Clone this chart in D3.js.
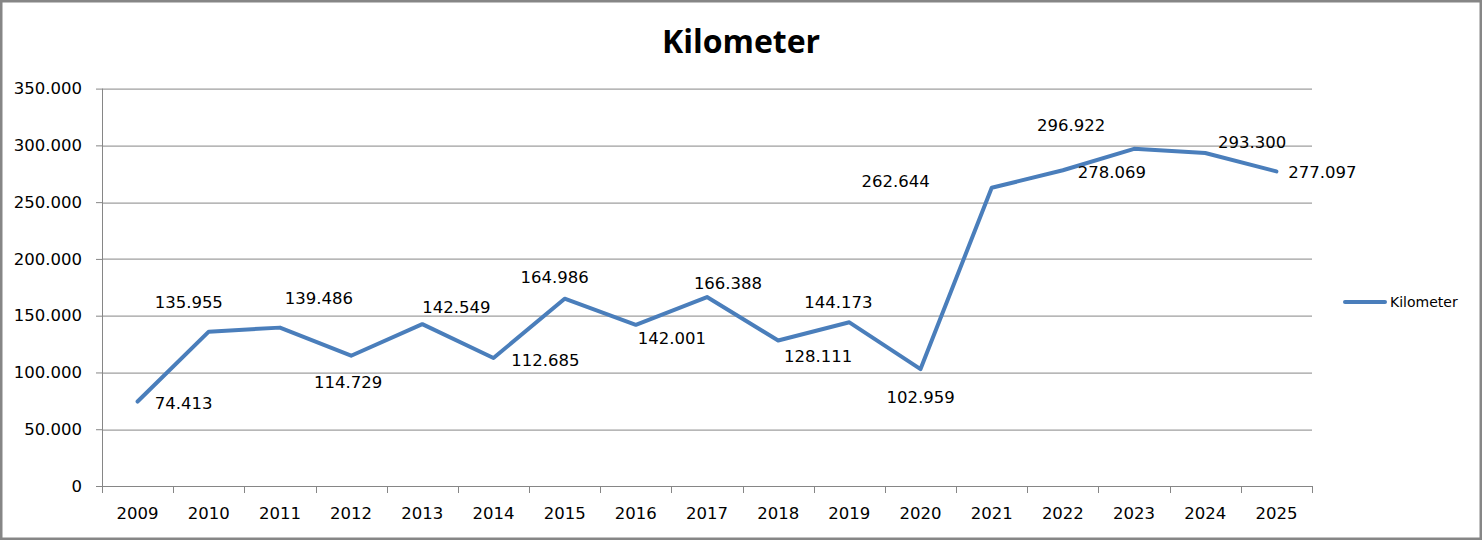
<!DOCTYPE html>
<html>
<head>
<meta charset="utf-8">
<script src="https://cdn.jsdelivr.net/npm/d3@7"></script>
<style>
  body { margin: 0; background: #fff; }
  svg text { font-family: "DejaVu Sans", sans-serif; fill: #000; }
</style>
</head>
<body>
<script>
// chart data
var years = ["2009", "2010", "2011", "2012", "2013", "2014", "2015", "2016", "2017",
             "2018", "2019", "2020", "2021", "2022", "2023", "2024", "2025"];
var kilometer = [74413, 135955, 139486, 114729, 142549, 112685, 164986, 142001, 166388,
                 128111, 144173, 102959, 262644, 278069, 296922, 293300, 277097];
var yTicks = [0, 50000, 100000, 150000, 200000, 250000, 300000, 350000];
var seriesName = "Kilometer";

// where each data label sits relative to its point (dx, dy in px), as in the original
var labelOffsets = [[46, 2], [-20, -30], [39, -30], [-3, 26], [34, -17], [52, 2], [-10, -22],
                    [36, 13], [21, -14], [40, 16], [-11, -20], [0, 28], [-96, -7], [49, 2],
                    [-63, -24], [47, -11], [46, 1]];

var W = 1482, H = 540;
var margin = {top: 88.6, right: 170, bottom: 54, left: 102},
    width = 1312 - margin.left,
    height = 486 - margin.top;

var gridColor = "#868686",
    lineColor = "#4A7EBB";

// number format with dot as thousands separator
var fmt = function(v) {
    return d3.format(",")(v).replace(/,/g, ".");
};

var svg = d3.select("body").append("svg")
    .attr("width", W)
    .attr("height", H);

// outer border
svg.append("rect")
    .attr("x", 1.25).attr("y", 1.25)
    .attr("width", W - 2.5).attr("height", H - 2.5)
    .attr("fill", "#fff")
    .attr("stroke", gridColor)
    .attr("stroke-width", 2.5);

// title
svg.append("text")
    .attr("x", 741)
    .attr("y", 53)
    .attr("text-anchor", "middle")
    .style("font-family", "'Open Sans', sans-serif")
    .style("font-weight", "bold")
    .style("font-size", "32px")
    .text(seriesName);

var g = svg.append("g")
    .attr("transform", "translate(" + margin.left + "," + margin.top + ")");

var x = d3.scaleBand().domain(years).range([0, width]);
var y = d3.scaleLinear().domain([0, 350000]).range([height, 0]);

// horizontal gridlines
g.selectAll(".grid")
    .data(yTicks.filter(function(d) { return d > 0; }))
    .enter().append("line")
    .attr("class", "grid")
    .attr("x1", 0).attr("x2", width)
    .attr("y1", function(d) { return Math.round(y(d)) + 0.5; })
    .attr("y2", function(d) { return Math.round(y(d)) + 0.5; })
    .attr("stroke", gridColor)
    .attr("stroke-width", 1);

// Y axis
var yAxis = g.append("g")
    .call(d3.axisLeft(y).tickValues(yTicks).tickSize(6).tickPadding(14).tickFormat(fmt));
yAxis.select(".domain").attr("stroke", gridColor).attr("d", "M0.5,0V" + height);
yAxis.selectAll(".tick line").attr("stroke", gridColor);
yAxis.selectAll("text").style("font-size", "16.5px").style("font-family", "'DejaVu Sans', sans-serif");

// X axis: tick marks at band edges
var xAxis = g.append("g").attr("transform", "translate(0," + height + ")");
xAxis.append("line")
    .attr("x1", 0).attr("x2", width)
    .attr("y1", 0.5).attr("y2", 0.5)
    .attr("stroke", gridColor);
xAxis.selectAll(".xtick")
    .data(years.concat(["end"]))
    .enter().append("line")
    .attr("x1", function(d, i) { return Math.round(i * x.step()) + 0.5; })
    .attr("x2", function(d, i) { return Math.round(i * x.step()) + 0.5; })
    .attr("y1", 0).attr("y2", 7)
    .attr("stroke", gridColor);
xAxis.selectAll(".xlabel")
    .data(years)
    .enter().append("text")
    .attr("x", function(d) { return x(d) + x.bandwidth() / 2; })
    .attr("y", 27)
    .attr("dy", "0.35em")
    .attr("text-anchor", "middle")
    .style("font-size", "16.5px")
    .text(function(d) { return d; });

// the line
var line = d3.line()
    .x(function(d, i) { return x(years[i]) + x.bandwidth() / 2; })
    .y(function(d) { return y(d); });

g.append("path")
    .datum(kilometer)
    .attr("fill", "none")
    .attr("stroke", lineColor)
    .attr("stroke-width", 4)
    .attr("stroke-linejoin", "round")
    .attr("stroke-linecap", "round")
    .attr("d", line);

// data labels
g.selectAll(".dlabel")
    .data(kilometer)
    .enter().append("text")
    .attr("class", "dlabel")
    .attr("x", function(d, i) { return x(years[i]) + x.bandwidth() / 2 + labelOffsets[i][0]; })
    .attr("y", function(d, i) { return y(d) + labelOffsets[i][1]; })
    .attr("dy", "0.36em")
    .attr("text-anchor", "middle")
    .style("font-size", "16.5px")
    .text(fmt);

// legend
var legend = svg.append("g").attr("transform", "translate(1343,302)");
legend.append("line")
    .attr("x1", 2).attr("x2", 42)
    .attr("y1", 0).attr("y2", 0)
    .attr("stroke", lineColor)
    .attr("stroke-width", 4)
    .attr("stroke-linecap", "round");
legend.append("text")
    .attr("x", 47)
    .attr("y", 0)
    .attr("dy", "0.35em")
    .style("font-size", "14px")
    .text(seriesName);
</script>
</body>
</html>
